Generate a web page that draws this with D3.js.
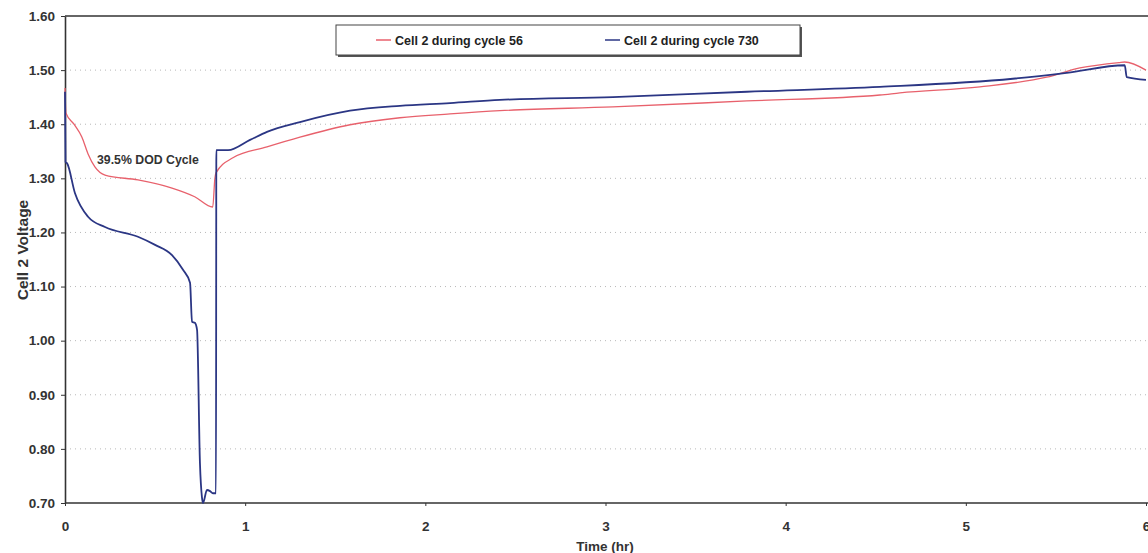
<!DOCTYPE html>
<html>
<head>
<meta charset="utf-8">
<script src="https://cdn.jsdelivr.net/npm/d3@7"></script>
<style>
  html, body { margin: 0; padding: 0; background: #fff; }
  svg { display: block; font-family: "Liberation Sans", Arial, sans-serif; }
  .narrow { font-family: "Liberation Sans Narrow", "Arial Narrow", "Liberation Sans", sans-serif; }
</style>
</head>
<body>
<svg id="chart" width="1148" height="553"></svg>
<script>
// ---- Data ----
const yTicks = [0.70, 0.80, 0.90, 1.00, 1.10, 1.20, 1.30, 1.40, 1.50, 1.60];
const xTicks = [0, 1, 2, 3, 4, 5, 6];
const seriesNames = ["Cell 2 during cycle 56", "Cell 2 during cycle 730"];

// Cell 2 during cycle 56 : [time (hr), voltage]
const cycle56 = [
  [0.000, 1.467], [0.005, 1.421], [0.050, 1.400], [0.094, 1.376], [0.128, 1.345],
  [0.166, 1.321], [0.222, 1.306], [0.405, 1.297], [0.594, 1.282], [0.720, 1.266],
  [0.820, 1.247], [0.832, 1.300], [0.838, 1.310], [0.932, 1.338], [1.121, 1.358],
  [1.304, 1.376], [1.582, 1.399], [1.859, 1.412], [2.137, 1.419], [2.414, 1.425],
  [3.041, 1.432], [3.785, 1.443], [4.523, 1.454], [4.634, 1.458], [5.078, 1.469],
  [5.449, 1.487], [5.633, 1.504], [5.850, 1.514], [5.882, 1.515], [6.000, 1.500]
];

// Cell 2 during cycle 730 : [time (hr), voltage]
const cycle730 = [
  [0.000, 1.460], [0.003, 1.330], [0.011, 1.328], [0.055, 1.273], [0.128, 1.229],
  [0.222, 1.210], [0.405, 1.192], [0.500, 1.177], [0.594, 1.158], [0.655, 1.131],
  [0.694, 1.107], [0.705, 1.035], [0.721, 1.033], [0.733, 1.020], [0.749, 0.774],
  [0.760, 0.711], [0.766, 0.700], [0.788, 0.724], [0.805, 0.722], [0.821, 0.718],
  [0.838, 0.718], [0.840, 1.352], [0.905, 1.352], [1.027, 1.371], [1.121, 1.386],
  [1.304, 1.404], [1.582, 1.425], [1.859, 1.434], [2.137, 1.439], [2.414, 1.445],
  [3.041, 1.450], [3.785, 1.460], [4.523, 1.469], [5.261, 1.484], [5.560, 1.495],
  [5.882, 1.509], [5.893, 1.487], [6.000, 1.482]
];

const annotation = "39.5% DOD Cycle";

// ---- Layout ----
const svg = d3.select("#chart");
const mLeft = 65, mRight = 1146, mTop = 16, mBottom = 503;

const x = d3.scaleLinear().domain([0, 6]).range([mLeft, mRight]);
const y = d3.scaleLinear().domain([0.70, 1.60]).range([mBottom, mTop]);

// gridlines (dotted)
svg.append("g")
  .selectAll("line")
  .data(yTicks.filter(d => d > 0.71 && d < 1.59))
  .join("line")
  .attr("x1", mLeft).attr("x2", 1148)
  .attr("y1", d => y(d)).attr("y2", d => y(d))
  .attr("stroke", "#b8b8b8")
  .attr("stroke-width", 1)
  .attr("stroke-dasharray", "1,4");

// frame top
svg.append("line")
  .attr("x1", mLeft).attr("x2", 1148)
  .attr("y1", mTop).attr("y2", mTop)
  .attr("stroke", "#333").attr("stroke-width", 1.6);

// Y axis
const yAxis = d3.axisLeft(y).tickValues(yTicks).tickFormat(d3.format(".2f")).tickSize(4).tickSizeOuter(0);
const gy = svg.append("g").attr("transform", `translate(${mLeft},0)`).call(yAxis);
gy.select(".domain").attr("stroke", "#333").attr("stroke-width", 1.6);
gy.selectAll(".tick line").attr("stroke", "#333");
gy.selectAll(".tick text")
  .attr("class", "narrow")
  .attr("x", -10)
  .attr("fill", "#333")
  .style("font-size", "13.5px")
  .style("font-weight", "bold");

// X axis
const xAxis = d3.axisBottom(x).tickValues(xTicks).tickFormat(d3.format("d")).tickSize(3).tickSizeOuter(0);
const gx = svg.append("g").attr("transform", `translate(0,${mBottom})`).call(xAxis);
gx.select(".domain").attr("stroke", "#333").attr("stroke-width", 1.6)
  .attr("d", `M${mLeft},0H1148`);
gx.selectAll(".tick line").attr("stroke", "#333");
gx.selectAll(".tick text")
  .attr("class", "narrow")
  .attr("y", 18)
  .attr("fill", "#333")
  .style("font-size", "13.5px")
  .style("font-weight", "bold");

// axis titles
svg.append("text")
  .attr("transform", `translate(28,250) rotate(-90)`)
  .attr("text-anchor", "middle")
  .attr("fill", "#333")
  .style("font-size", "15.5px")
  .style("font-weight", "bold")
  .text("Cell 2 Voltage");

svg.append("text")
  .attr("class", "narrow")
  .attr("x", 605).attr("y", 551)
  .attr("text-anchor", "middle")
  .attr("fill", "#333")
  .style("font-size", "13.5px")
  .style("font-weight", "bold")
  .text("Time (hr)");

// lines
const line = d3.line().x(d => x(d[0])).y(d => y(d[1])).curve(d3.curveMonotoneX);
svg.append("path").datum(cycle56)
  .attr("fill", "none").attr("stroke", "#e8616c").attr("stroke-width", 1.3)
  .attr("stroke-linejoin", "round").attr("d", line);
svg.append("path").datum(cycle730)
  .attr("fill", "none").attr("stroke", "#2b3684").attr("stroke-width", 1.8)
  .attr("stroke-linejoin", "round").attr("d", line);

// annotation
svg.append("text")
  .attr("x", 97).attr("y", 164)
  .attr("fill", "#333")
  .style("font-size", "12.3px")
  .style("font-weight", "bold")
  .text(annotation);

// legend
const lg = svg.append("g");
lg.append("rect").attr("x", 338).attr("y", 27).attr("width", 464).attr("height", 30).attr("fill", "#555");
lg.append("rect").attr("x", 336).attr("y", 25).attr("width", 464).attr("height", 30)
  .attr("fill", "#fff").attr("stroke", "#444").attr("stroke-width", 1);
const legendItems = [
  { name: seriesNames[0], color: "#e8616c", x0: 376 },
  { name: seriesNames[1], color: "#2b3684", x0: 605 }
];
legendItems.forEach(it => {
  lg.append("line").attr("x1", it.x0).attr("x2", it.x0 + 15).attr("y1", 40).attr("y2", 40)
    .attr("stroke", it.color).attr("stroke-width", 1.5);
  lg.append("text").attr("x", it.x0 + 19).attr("y", 44.5)
    .attr("fill", "#222").style("font-size", "12.5px").style("font-weight", "bold")
    .text(it.name);
});
</script>
</body>
</html>
